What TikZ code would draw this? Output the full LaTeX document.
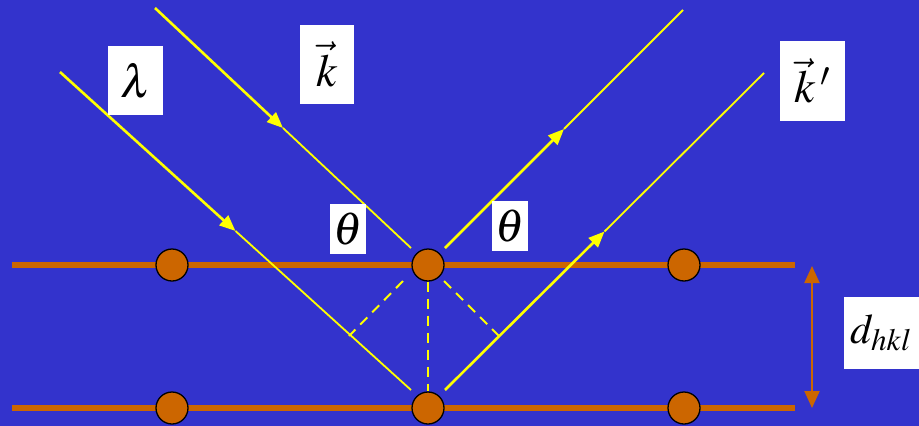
\documentclass[tikz,border=0pt]{standalone}
\usepackage{mathptmx}
\usetikzlibrary{arrows.meta,calc}
\definecolor{bg}{HTML}{3333CC}
\definecolor{orng}{HTML}{CC6600}
\definecolor{ray}{HTML}{FFFF00}
\begin{document}
\begin{tikzpicture}[x=1pt,y=-1pt,
  atom/.style={circle,draw=black,line width=1.3pt,fill=orng,minimum size=32pt,inner sep=0pt},
  plane/.style={orng,line width=6.5pt},
  thickray/.style={ray,line width=2.6pt,-{Triangle[length=16pt,width=13pt]}},
  thinray/.style={ray,line width=1.8pt},
  perp/.style={ray,line width=2pt,dash pattern=on 10pt off 7pt},
  lbl/.style={fill=white,inner sep=0pt,font=\fontsize{46}{46}\selectfont}]
\useasboundingbox (0,0) rectangle (919,426);
\fill[bg] (0,0) rectangle (919,426);
% planes
\coordinate (p1l) at (12,265); \coordinate (p1r) at (795,265);
\coordinate (p2l) at (12,408); \coordinate (p2r) at (795,408);
\draw[plane] (p1l) -- (p1r);
\draw[plane] (p2l) -- (p2r);
% atoms
\node[atom] (a1) at (172,265) {};
\node[atom] (ua) at (428,265) {};
\node[atom] (a3) at (684,265) {};
\node[atom] (b1) at (172,408) {};
\node[atom] (la) at (428,408) {};
\node[atom] (b3) at (684,408) {};
% rays
\coordinate (r1s) at (155,8);   \coordinate (r1e) at (411,248);
\coordinate (r2s) at (60,72);   \coordinate (r2e) at (411,390);
\coordinate (q1s) at (445,248); \coordinate (q1e) at (683,10);
\coordinate (q2s) at (445,390); \coordinate (q2e) at (764,73);
\coordinate (r1m) at ($(r1s)!0.5!(r1e)$);
\coordinate (r2m) at ($(r2s)!0.5!(r2e)$);
\coordinate (q1m) at ($(q1s)!0.5!(q1e)$);
\coordinate (q2m) at ($(q2s)!0.5!(q2e)$);
\draw[thinray] (r1m) -- (r1e);
\draw[thickray] (r1s) -- (r1m);
\draw[thinray] (r2m) -- (r2e);
\draw[thickray] (r2s) -- (r2m);
\draw[thinray] (q1m) -- (q1e);
\draw[thickray] (q1s) -- (q1m);
\draw[thinray] (q2m) -- (q2e);
\draw[thickray] (q2s) -- (q2m);
% perpendiculars
\coordinate (dl0) at (403,281); \coordinate (dl1) at (349,336);
\coordinate (dr0) at (444,281); \coordinate (dr1) at (500,337);
\draw[perp] (dl0) -- (dl1);
\draw[perp] (dr0) -- (dr1);
\draw[perp] (ua.south) -- (la.north);
% spacing arrow
\coordinate (dt) at (812,266); \coordinate (db) at (812,408);
\draw[orng,line width=2pt,{Triangle[length=17pt,width=15pt]}-{Triangle[length=17pt,width=15pt]}] (dt) -- (db);
% labels
\node[lbl,minimum width=55pt,minimum height=69pt] (lam) at (135.5,80.5) {$\lambda$};
\node[lbl,minimum width=54pt,minimum height=79pt] (k) at (327,64.5) {$\vec{k}$};
\node[lbl,minimum width=65pt,minimum height=80pt] (kp) at (812.5,81) {$\vec{k}\,'$};
\node[lbl,minimum width=36pt,minimum height=50pt] (t1) at (348,229) {$\theta$};
\node[lbl,minimum width=36pt,minimum height=50pt] (t2) at (510,226) {$\theta$};
\node[fill=white,minimum width=75pt,minimum height=72pt,anchor=west] (dbox) at (844,333) {};
\node[inner sep=0pt,anchor=west,font=\fontsize{42}{42}\selectfont] (d) at (850,333) {$d_{hkl}$};
\end{tikzpicture}
\end{document}
